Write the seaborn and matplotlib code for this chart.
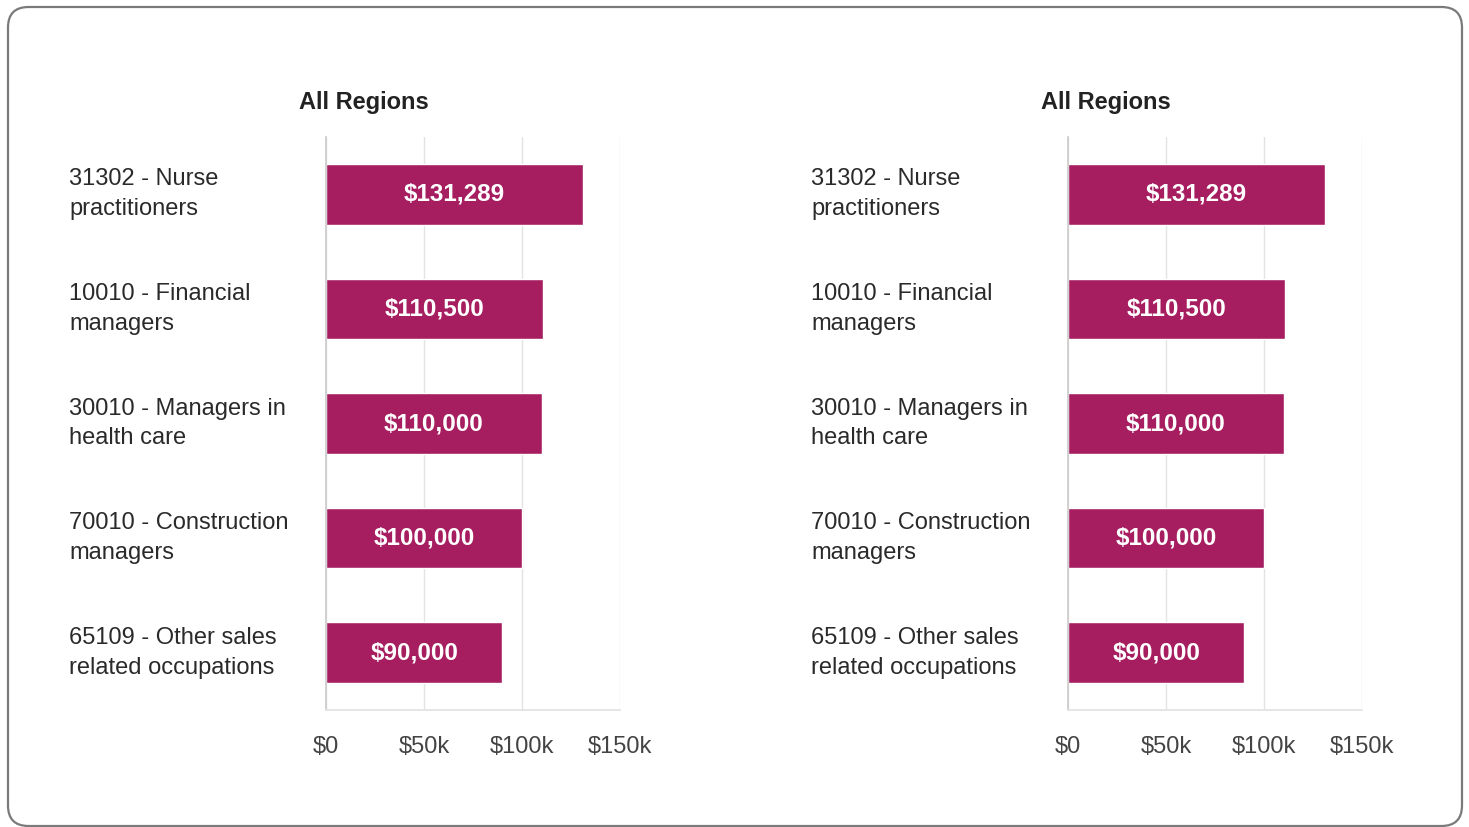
import matplotlib
matplotlib.use("Agg")
import matplotlib.pyplot as plt
import seaborn as sns
from matplotlib.patches import FancyBboxPatch

sns.set_theme(style="white")
plt.rcParams['font.family'] = ['Liberation Sans', 'DejaVu Sans']

occupations = ['31302 - Nurse\npractitioners', '10010 - Financial\nmanagers',
               '30010 - Managers in\nhealth care', '70010 - Construction\nmanagers',
               '65109 - Other sales\nrelated occupations']
salaries = [131289, 110500, 110000, 100000, 90000]
x_ticks = [0, 50000, 100000, 150000]
x_tick_labels = ['$0', '$50k', '$100k', '$150k']
panel_titles = ['All Regions', 'All Regions']

bar_color = '#A61E5F'
grid_color = '#E3E3E3'

fig = plt.figure(figsize=(14.69, 8.27), dpi=100)

# rounded frame around the whole card
frame = FancyBboxPatch((8 / 1469, 1 - 826 / 827), 1454 / 1469, 819 / 827,
                       boxstyle="round,pad=0,rounding_size=0.014",
                       transform=fig.transFigure, facecolor='none',
                       edgecolor='#7A7A7A', linewidth=1.6, mutation_aspect=1469 / 827)
fig.add_artist(frame)

lefts = [326 / 1469, 1068 / 1469]
title_x = [364 / 1469, 1106 / 1469]
for left, tx, title in zip(lefts, title_x, panel_titles):
    ax = fig.add_axes([left, 1 - 710 / 827, 294 / 1469, 573 / 827])
    ax.set_facecolor('none')
    sns.barplot(x=salaries, y=occupations, ax=ax, color=bar_color,
                saturation=1, width=0.53, orient='h')
    ax.set_xlim(0, 150000)
    ax.set_ylim(4.5, -0.5)
    ax.set_xticks(x_ticks)
    ax.set_xticklabels(x_tick_labels, fontsize=17, color='#444444')
    ax.set_yticks(range(len(occupations)))
    ax.set_yticklabels(occupations, fontsize=17, color='#2A2A2A', ha='left',
                       va='center', linespacing=1.45)
    ax.tick_params(axis='y', length=0, pad=185)
    ax.tick_params(axis='x', length=12, width=1, color=grid_color, pad=7)
    ax.xaxis.grid(True, color=grid_color, linewidth=1)
    ax.set_axisbelow(True)
    for side in ['top', 'right']:
        ax.spines[side].set_visible(False)
    ax.spines['bottom'].set_color(grid_color)
    ax.spines['left'].set_color('#CCCCCC')
    ax.set_xlabel('')
    ax.set_ylabel('')
    ax.bar_label(ax.containers[0], labels=[f'${v:,}' for v in salaries],
                 label_type='center', color='white', fontsize=17.5, fontweight='bold')
    fig.text(tx, 1 - 103 / 827, title, ha='center', va='center',
             fontsize=17, fontweight='bold', color='#222222')

fig.savefig('out.png', dpi=100)
